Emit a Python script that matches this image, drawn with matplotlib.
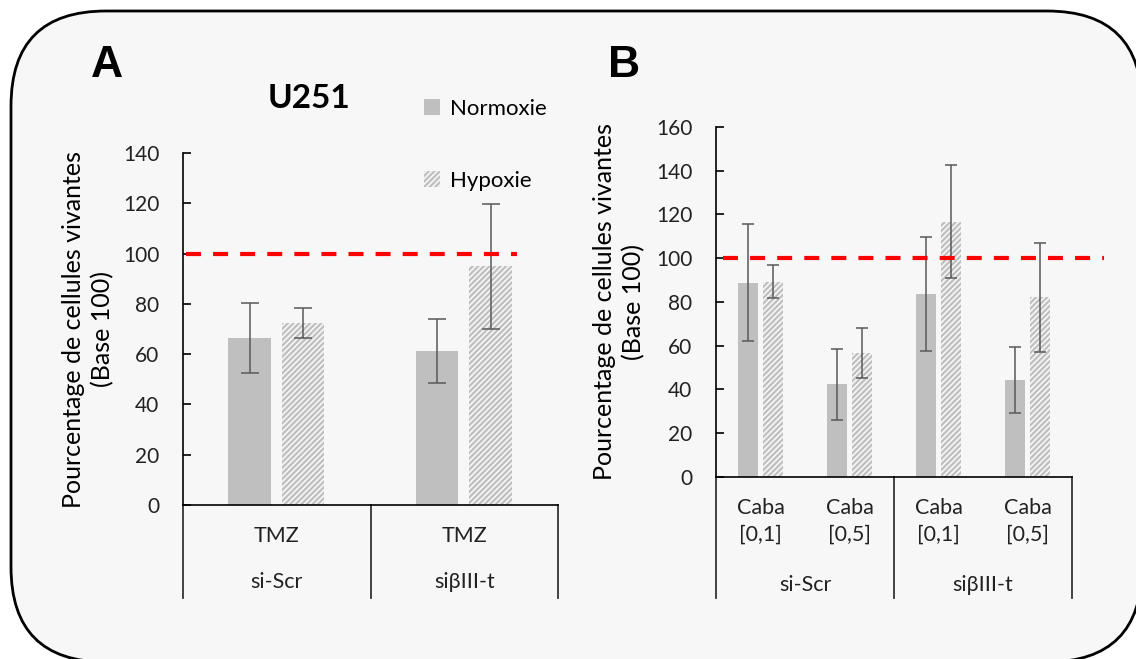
import matplotlib
matplotlib.use("Agg")
import matplotlib.pyplot as plt
from matplotlib.patches import FancyBboxPatch
from matplotlib.transforms import IdentityTransform

plt.rcParams["font.family"] = ["Lato", "DejaVu Sans"]
plt.rcParams["hatch.linewidth"] = 1.6

# données panneau A (U251, TMZ)
a_cond = ["TMZ", "TMZ"]
a_groups = ["si-Scr", "siβIII-t"]
a_norm = [66.5, 61.3]
a_norm_err = [14, 12.7]
a_hyp = [72.4, 95]
a_hyp_err = [6, 24.8]

# données panneau B (Cabazitaxel)
b_cond = ["Caba\n[0,1]", "Caba\n[0,5]", "Caba\n[0,1]", "Caba\n[0,5]"]
b_groups = ["si-Scr", "siβIII-t"]
b_norm = [88.8, 42.3, 83.5, 44.4]
b_norm_err = [26.7, 16.4, 26.1, 15.2]
b_hyp = [89.3, 56.6, 116.7, 82.2]
b_hyp_err = [7.6, 11.5, 25.8, 24.9]

base = 100
ylab = "Pourcentage de cellules vivantes\n(Base 100)"
gris = "#bfbfbf"
fond = "#f7f7f7"

fig = plt.figure(figsize=(11.36, 6.59), dpi=100, facecolor="white")

# cadre arrondi
cadre = FancyBboxPatch((11, -3), 1131, 651, boxstyle="round,pad=0,rounding_size=95",
                       facecolor=fond, edgecolor="black", linewidth=2,
                       transform=IdentityTransform(), zorder=0)
fig.add_artist(cadre)


def panneau(rect, cond, groups, norm, nerr, hyp, herr, ymax, box_bottom, grp_y, capsize, line_x, lab_x):
    ax = fig.add_axes(rect)
    ax.set_facecolor("none")
    x = list(range(len(cond)))
    w = 0.225
    ek = dict(ecolor="#595959", elinewidth=1.1, capsize=capsize, capthick=1.1)
    ax.bar([i - 0.145 for i in x], norm, w, color=gris, yerr=nerr, error_kw=ek,
           label="Normoxie", zorder=2)
    ax.bar([i + 0.14 for i in x], hyp, w, facecolor=fond, edgecolor=gris, hatch="//////",
           linewidth=0, yerr=herr, error_kw=ek, label="Hypoxie", zorder=2)
    ax.axhline(base, xmin=line_x[0], xmax=line_x[1], color="red", lw=3,
               dashes=(3.6, 2.9), clip_on=False, zorder=3)
    ax.set_xlim(-0.5, len(cond) - 0.5)
    ax.set_ylim(0, ymax)
    ax.set_yticks(range(0, ymax + 1, 20))
    ax.tick_params(axis="y", direction="in", length=6, width=1.2, pad=17, labelsize=15,
                   labelcolor="#222222")
    ax.set_xticks(x)
    ax.set_xticklabels(cond, fontsize=15.5, color="#222222", linespacing=1.45)
    ax.tick_params(axis="x", length=0, pad=15)
    for s in ["top", "right"]:
        ax.spines[s].set_visible(False)
    ax.spines["left"].set_linewidth(1.2)
    ax.spines["bottom"].set_linewidth(1.2)
    ax.spines["left"].set_bounds(0, ymax)
    # boîtes des catégories sous l'axe
    n = len(groups)
    for k in range(n + 1):
        ax.plot([k / n, k / n], [0, box_bottom], transform=ax.transAxes,
                color="#333333", lw=1.3, clip_on=False)
    for k, g in enumerate(groups):
        ax.text((k + 0.5) / n, grp_y, g, transform=ax.transAxes, ha="center", va="center",
                fontsize=15.5, color="#222222")
    ax.set_ylabel(ylab, fontsize=18, linespacing=1.3, color="black")
    ax.yaxis.set_label_coords(lab_x, 0.5)
    return ax


axA = panneau([0.1611, 0.2337, 0.3301, 0.5341], a_cond, a_groups, a_norm, a_norm_err,
              a_hyp, a_hyp_err, 140, -0.264, -0.219, 6.5, (0.008, 0.89), -0.184)
axB = panneau([0.6303, 0.2762, 0.3134, 0.5311], b_cond, b_groups, b_norm, b_norm_err,
              b_hyp, b_hyp_err, 160, -0.346, -0.309, 4, (0.02, 1.09), -0.2)

axA.legend(loc="upper left", bbox_to_anchor=(0.62, 1.179), frameon=False, fontsize=16,
           handlelength=0.7, handleheight=0.7, handletextpad=0.45, labelspacing=2.33,
           borderaxespad=0)

fig.text(0.272, 0.850, "U251", fontsize=24, fontweight="bold", ha="center", va="center")
fig.text(0.094, 0.901, "A", fontsize=32, fontweight="bold", ha="center", va="center",
         family="Liberation Sans")
fig.text(0.549, 0.901, "B", fontsize=32, fontweight="bold", ha="center", va="center",
         family="Liberation Sans")

fig.savefig("out.png", dpi=100, facecolor="white")
